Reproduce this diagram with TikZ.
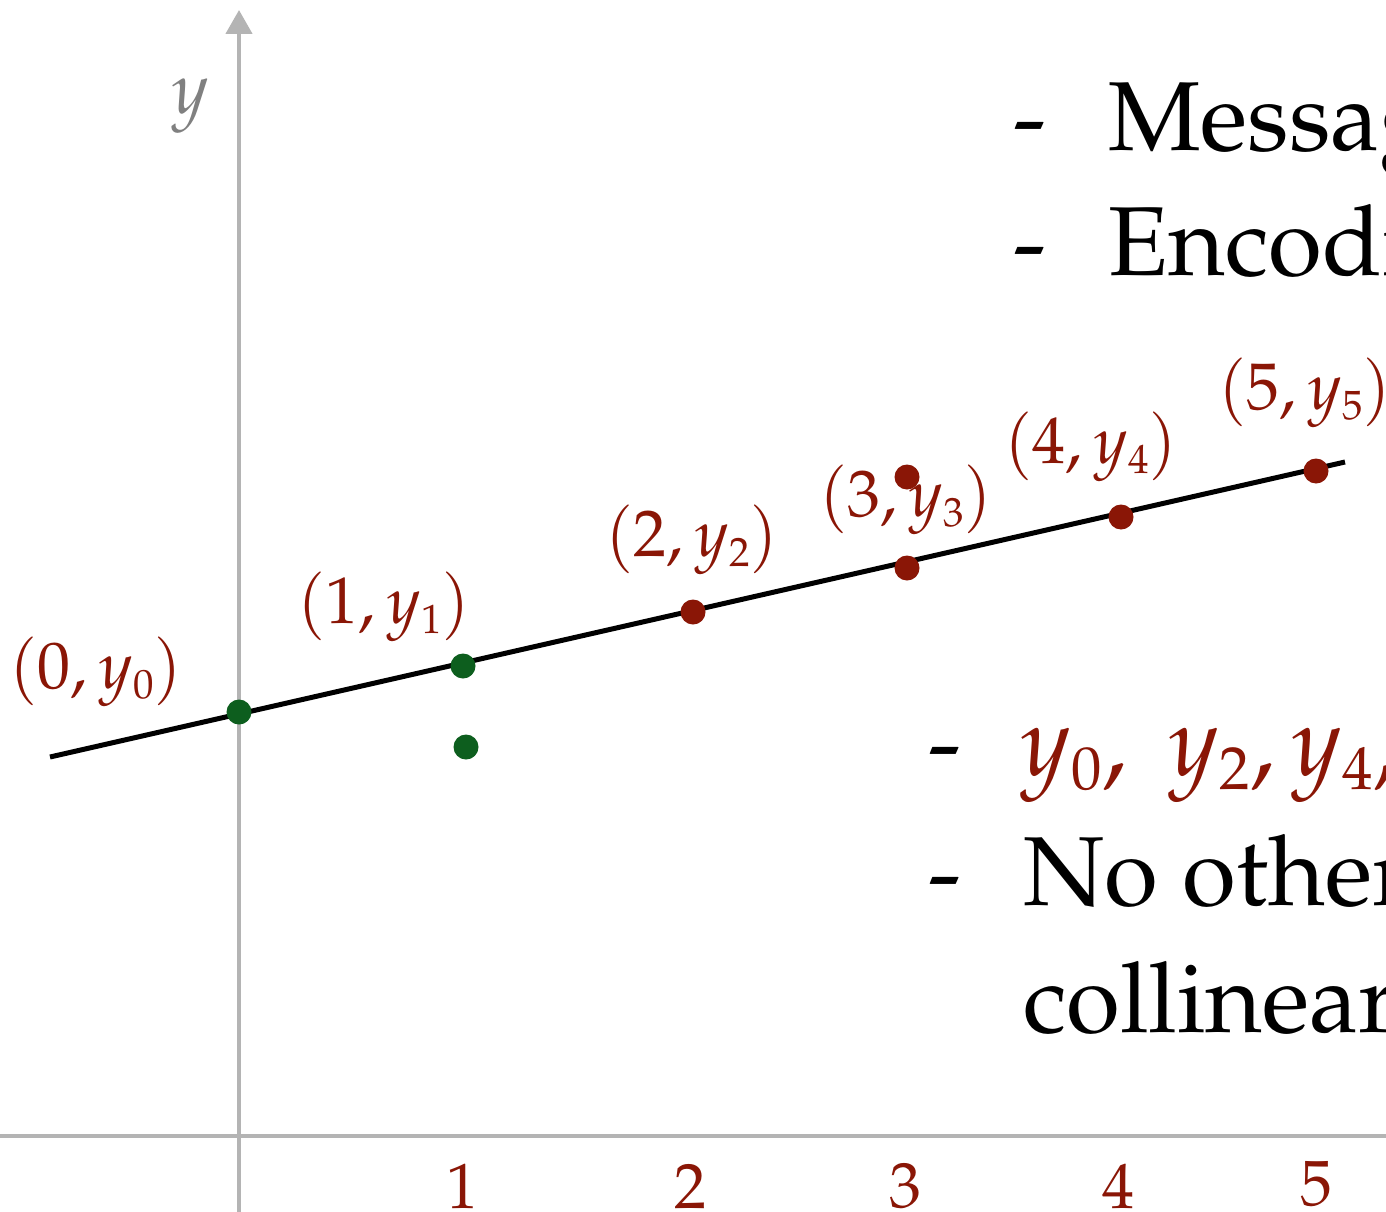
\documentclass[tikz,border=0pt]{standalone}
\usepackage[T1]{fontenc}
\usepackage{mathpazo}
\renewcommand\defaultscriptratio{0.62}
\renewcommand\defaultscriptscriptratio{0.5}
\usetikzlibrary{arrows.meta}
\definecolor{dred}{HTML}{8A1606}
\definecolor{dgreen}{HTML}{0D5E1E}
\definecolor{axgray}{HTML}{B4B4B4}
\definecolor{lblgray}{HTML}{808080}
\begin{document}
\begin{tikzpicture}[x=1pt,y=-1pt,
  axis/.style={draw=axgray,line width=4.5pt},
  reddot/.style={circle,fill=dred,inner sep=0pt,minimum size=25pt},
  greendot/.style={circle,fill=dgreen,inner sep=0pt,minimum size=25pt},
  ptlabel/.style={text=dred,inner sep=0pt,font=\fontsize{66}{72}\selectfont},
  ticklabel/.style={text=dred,inner sep=0pt,font=\fontsize{64}{70}\selectfont},
  bodytext/.style={anchor=base west,inner sep=0pt,font=\fontsize{98}{110}\selectfont}]
\useasboundingbox (0,0) rectangle (1386,1212);
\clip (0,0) rectangle (1386,1212);
\fill[white] (0,0) rectangle (1386,1212);
% axes
\coordinate (ybot) at (239,1215);
\coordinate (ytop) at (239,10);
\coordinate (xl) at (-5,1136);
\coordinate (xr) at (1395,1136);
\draw[axis] (xl) -- (xr);
\draw[axis,-{Triangle[length=24pt,width=26pt]}] (ybot) -- (ytop);
\node[text=lblgray,inner sep=0pt,font=\fontsize{72}{78}\selectfont] (ylab) at (190,106) {$y$};
% line
\coordinate (l0) at (50,757);
\coordinate (l1) at (1345,462);
\draw[line width=5pt,black] (l0) -- (l1);
% points
\node[greendot] (p0) at (239,712) {};
\node[greendot] (p1) at (463,666) {};
\node[greendot] (p1b) at (466,747) {};
\node[reddot] (p2) at (693,612) {};
\node[reddot] (p3) at (907,568) {};
\node[reddot] (p3b) at (907,477) {};
\node[reddot] (p4) at (1121,517) {};
\node[reddot] (p5) at (1316,471) {};
% point labels
\node[ptlabel] (t0) at (96,672) {$(0, y_0)$};
\node[ptlabel] (t1) at (384,607) {$(1, y_1)$};
\node[ptlabel] (t2) at (692,540) {$(2, y_2)$};
\node[ptlabel] (t3) at (906,500) {$(3, y_3)$};
\node[ptlabel] (t4) at (1091,447) {$(4, y_4)$};
\node[ptlabel] (t5) at (1305,393) {$(5, y_5)$};
% tick labels
\node[ticklabel] (n1) at (462,1186) {1};
\node[ticklabel] (n2) at (690,1186) {2};
\node[ticklabel] (n3) at (905,1186) {3};
\node[ticklabel] (n4) at (1118,1186) {4};
\node[ticklabel] (n5) at (1316,1184) {5};
% text blocks
\node[bodytext] (d1) at (1013,150) {-};
\node[bodytext] (m1) at (1108,150) {Message};
\node[bodytext] (d2) at (1013,275) {-};
\node[bodytext] (m2) at (1108,275) {Encoding};
\node[bodytext] (d3) at (928,775) {-};
\node[bodytext,text=dred] (m3) at (1020,775) {$y_0,\ y_2, y_4, y$};
\node[bodytext] (d4) at (928,905) {-};
\node[bodytext] (m4) at (1023,905) {No other};
\node[bodytext] (m5) at (1023,1032) {collinear};
\end{tikzpicture}
\end{document}
